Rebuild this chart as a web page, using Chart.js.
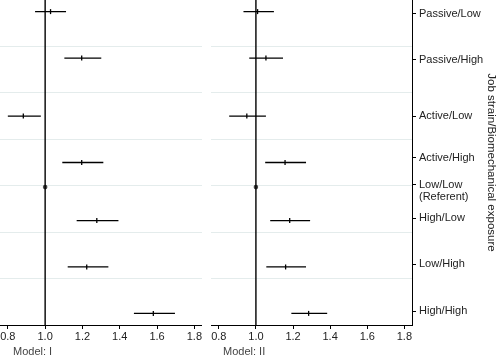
<!DOCTYPE html>
<html><head><meta charset="utf-8">
<script src="https://cdn.jsdelivr.net/npm/chart.js@4.4.1/dist/chart.umd.min.js"></script>
<style>
html,body{margin:0;padding:0;background:#fff;width:498px;height:357px;overflow:hidden}
.p{position:absolute;top:0;height:357px}
#w1{left:0;width:202px}
#w2{left:211px;width:287px}
</style></head><body>
<div class="p" id="w1"><canvas id="c1"></canvas></div>
<div class="p" id="w2"><canvas id="c2"></canvas></div>
<script>
// ---- data ----
const categories = ['Passive/Low','Passive/High','Active/Low','Active/High',['Low/Low','(Referent)'],'High/Low','Low/High','High/High'];
const rowPos   = [0.25, 1.25, 2.5, 3.5, 4.03, 4.75, 5.75, 6.75];   // position of each estimate row
const labelPos = [0.30, 1.29, 2.5, 3.4, 3.98, 4.70, 5.69, 6.70];   // position of each right-axis label
const gridPos  = [1, 2, 3, 4, 5, 6];
const xTicks   = [0.8, 1.0, 1.2, 1.4, 1.6, 1.8];
const panelLabels = ['Model: I', 'Model: II'];
const refValue = 1.0;
const est1 = [1.029, 1.196, 0.883, 1.196, 1.0, 1.277, 1.223, 1.580];
const lo1  = [0.946, 1.103, 0.800, 1.092, null, 1.169, 1.121, 1.476];
const hi1  = [1.112, 1.301, 0.977, 1.312, null, 1.393, 1.339, 1.696];
const est2 = [1.009, 1.054, 0.951, 1.157, 1.0, 1.182, 1.160, 1.284];
const lo2  = [0.933, 0.964, 0.856, 1.050, null, 1.077, 1.056, 1.191];
const hi2  = [1.097, 1.146, 1.054, 1.270, null, 1.292, 1.270, 1.384];
const yMin = 0, yMax = 7, xMin = 0.758, xMax = 1.841;

Chart.defaults.font.family = '"Liberation Sans", Arial, sans-serif';
Chart.defaults.font.size = 11;
Chart.defaults.color = '#222';

const panelLabelPlugin = {
  id: 'panelLabel',
  afterDraw(chart, args, opts) {
    const {ctx, chartArea} = chart;
    ctx.save();
    ctx.font = '11px "Liberation Sans", Arial, sans-serif';
    ctx.fillStyle = '#444';
    ctx.textBaseline = 'middle';
    ctx.textAlign = 'left';
    ctx.fillText(opts.text, chartArea.left + opts.dx, opts.y);
    ctx.restore();
  }
};

function makePanel(canvasId, est, lo, hi, label, dx, withRight) {
  const bars = [];
  const ticks = [];
  const refs = [];
  rowPos.forEach((y, i) => {
    if (lo[i] === null) { refs.push({x: est[i], y}); return; }
    bars.push({x: lo[i], y}, {x: hi[i], y}, {x: null, y: null});
    ticks.push({x: est[i], y});
  });
  const scales = {
    x: {
      type: 'linear', min: xMin, max: xMax,
      afterBuildTicks: s => { s.ticks = xTicks.map(v => ({value: v})); },
      afterFit: s => { s.height = 32; s.paddingLeft = 0; s.paddingRight = 0; },
      ticks: {padding: 1, maxRotation: 0, autoSkip: false, color: '#222', callback: v => v.toFixed(1)},
      grid: {drawOnChartArea: false, color: '#000', tickLength: 4, lineWidth: 1},
      border: {display: true, color: '#000', width: 1}
    },
    y: {
      type: 'linear', position: 'left', min: yMin, max: yMax, reverse: true,
      afterBuildTicks: s => { s.ticks = gridPos.map(v => ({value: v})); },
      afterFit: s => { s.width = 0; },
      ticks: {display: false},
      grid: {color: '#e4ecec', lineWidth: 1, drawTicks: false},
      border: {display: false}
    }
  };
  if (withRight) {
    scales.yr = {
      type: 'linear', position: 'right', min: yMin, max: yMax, reverse: true,
      afterBuildTicks: s => {
        const t = [];
        categories.forEach((c, i) => {
          const lines = Array.isArray(c) ? c : [c];
          lines.forEach((ln, j) => t.push({value: labelPos[i] + j * 0.27, text: ln, sub: j > 0}));
        });
        s.ticks = t;
      },
      afterFit: s => { s.width = 86; s.paddingTop = 0; s.paddingBottom = 0; },
      ticks: {padding: 3, autoSkip: false, color: '#222', callback: (v, i, t) => t[i].text},
      grid: {drawOnChartArea: false, tickLength: 4, color: '#000',
             tickColor: c => (c.tick && c.tick.sub) ? 'rgba(0,0,0,0)' : '#000'},
      border: {display: true, color: '#000', width: 1},
      title: {display: true, text: 'Job strain/Biomechanical exposure', color: '#222',
              font: {size: 11.5}, padding: {top: 0, bottom: 0}}
    };
  }
  return new Chart(document.getElementById(canvasId), {
    type: 'scatter',
    data: {datasets: [
      {data: [{x: refValue, y: yMin}, {x: refValue, y: yMax}], showLine: true, borderColor: '#000',
       borderWidth: 1.4, pointRadius: 0, yAxisID: 'y'},
      {data: bars, showLine: true, spanGaps: false, borderColor: '#000', borderWidth: 1.3,
       pointRadius: 0, yAxisID: 'y'},
      {data: ticks, showLine: false, pointStyle: 'line', rotation: 90, pointRadius: 2.5,
       borderColor: '#000', borderWidth: 1.3, yAxisID: 'y'},
      {data: refs, showLine: false, pointStyle: 'circle', pointRadius: 2.3,
       backgroundColor: '#444', borderColor: '#444', borderWidth: 0, yAxisID: 'y'}
    ]},
    options: {
      responsive: true, maintainAspectRatio: false, animation: false, events: [],
      layout: {padding: 0, autoPadding: false},
      plugins: {legend: {display: false}, tooltip: {enabled: false},
                panelLabel: {text: label, dx: dx, y: 352}},
      scales
    },
    plugins: [panelLabelPlugin]
  });
}

makePanel('c1', est1, lo1, hi1, panelLabels[0], 13, false);
makePanel('c2', est2, lo2, hi2, panelLabels[1], 12, true);
</script>
</body></html>
